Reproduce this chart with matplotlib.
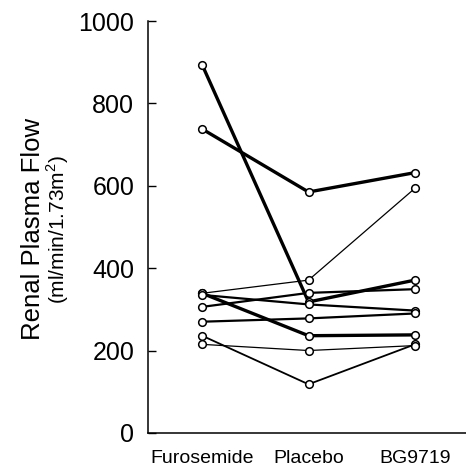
import matplotlib
matplotlib.use("Agg")
import matplotlib.pyplot as plt

plt.rcParams['font.family'] = ['Liberation Sans', 'DejaVu Sans']
plt.rcParams['mathtext.fontset'] = 'custom'
plt.rcParams['mathtext.rm'] = 'Liberation Sans'

groups = ["Furosemide", "Placebo", "BG9719"]

# one row per subject: Furosemide, Placebo, BG9719
subjects = [
    [894, 318, 371],
    [738, 585, 632],
    [339, 371, 594],
    [339, 236, 238],
    [335, 312, 297],
    [306, 340, 349],
    [270, 278, 290],
    [236, 118, 215],
    [215, 200, 212],
]
widths = [2.4, 2.4, 0.9, 2.4, 1.6, 1.6, 1.6, 1.3, 0.9]

fig = plt.figure(figsize=(4.66, 4.69), dpi=100)
ax = fig.add_axes([0.318, 0.077, 0.682, 0.878])

x = range(len(groups))
for vals, lw in zip(subjects, widths):
    ax.plot(x, vals, color="black", lw=lw, marker="o", ms=5.5,
            mfc="white", mec="black", mew=1.1, zorder=3)

ax.set_xlim(-0.507, 2.48)
ax.set_ylim(0, 1000)
ax.set_yticks(range(0, 1001, 200))
ax.set_xticks(list(x))
ax.set_xticklabels(groups, fontsize=14)
ax.tick_params(axis="x", length=0, pad=12)
ax.tick_params(axis="y", direction="in", length=6, width=1, labelsize=18, pad=10)

for s in ["top", "right"]:
    ax.spines[s].set_visible(False)
for s in ["left", "bottom"]:
    ax.spines[s].set_linewidth(1.1)

fig.text(33 / 466, 1 - 229 / 469, "Renal Plasma Flow", rotation=90,
         fontsize=18.5, ha="center", va="center")
fig.text(58 / 466, 1 - 230 / 469, "(ml/min/1.73m$^2$)", rotation=90,
         fontsize=15, ha="center", va="center")

fig.savefig("out.png", dpi=100)
